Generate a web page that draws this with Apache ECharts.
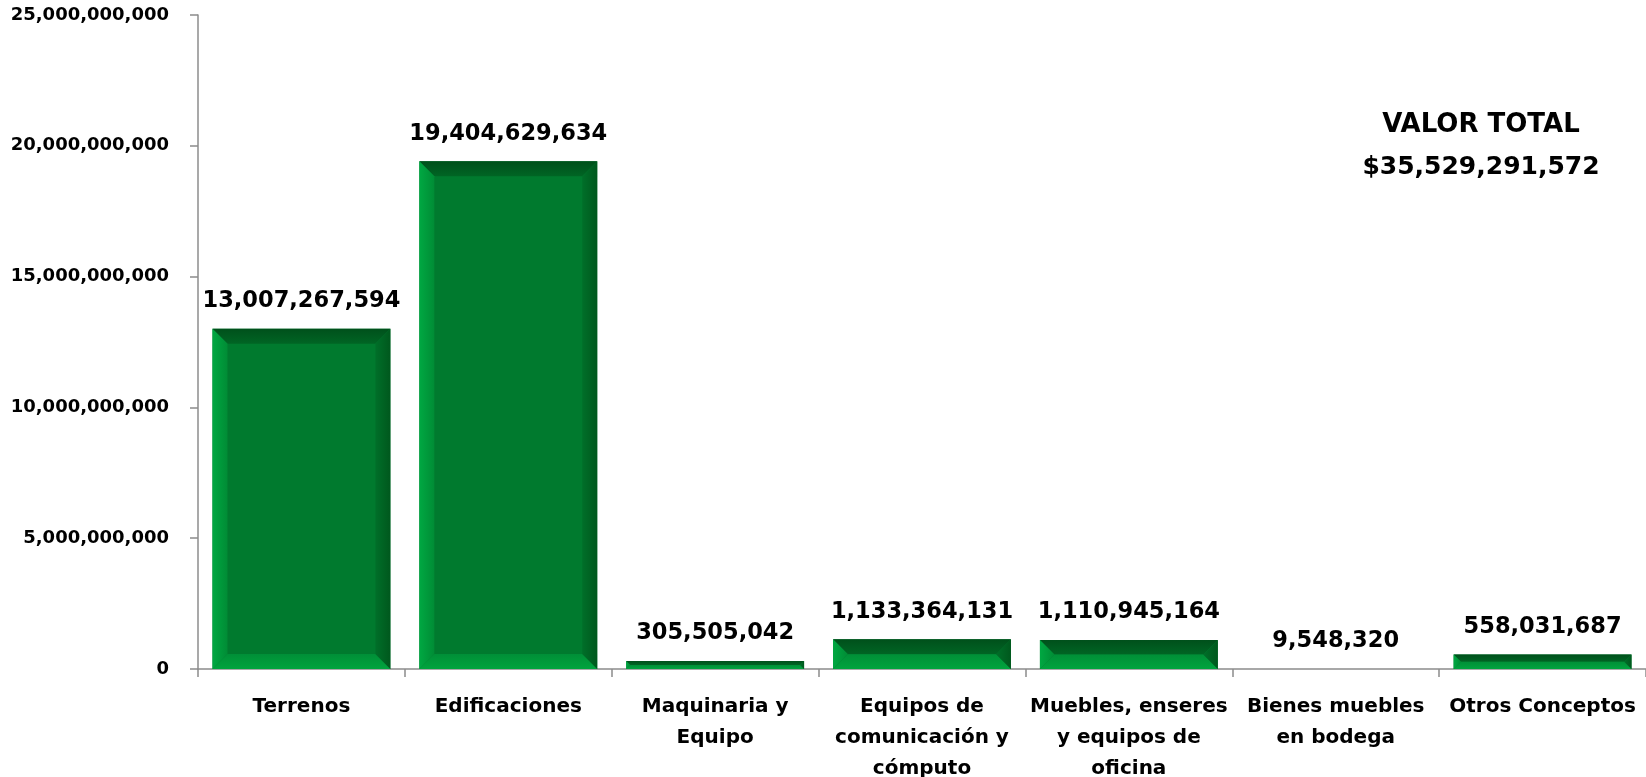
<!DOCTYPE html>
<html>
<head>
<meta charset="utf-8">
<script src="https://cdn.jsdelivr.net/npm/echarts@6/dist/echarts.min.js"></script>
<style>
html,body{margin:0;padding:0;background:#fff;}
#chart{width:1646px;height:777px;}
</style>
</head>
<body>
<div id="chart"></div>
<script>
var categories = [
  'Terrenos',
  'Edificaciones',
  'Maquinaria y\nEquipo',
  'Equipos de\ncomunicación y\ncómputo',
  'Muebles, enseres\ny equipos de\noficina',
  'Bienes muebles\nen bodega',
  'Otros Conceptos'
];
var values = [13007267594, 19404629634, 305505042, 1133364131, 1110945164, 9548320, 558031687];
var yTicks = [0, 5000000000, 10000000000, 15000000000, 20000000000, 25000000000];
var totalTitle = 'VALOR TOTAL';
var totalValue = '$35,529,291,572';

var FONT = 'DejaVu Sans';
function fmt(v){ return Number(v).toLocaleString('en-US'); }

var chart = echarts.init(document.getElementById('chart'), null, {renderer:'canvas'});

var BAR_RATIO = 0.86;
var BEVEL = 15;

function renderBevel(params, api){
  var idx = api.value(0);
  var val = api.value(1);
  var top = api.coord([idx, val]);
  var bot = api.coord([idx, 0]);
  var w = api.size([1, 0])[0] * BAR_RATIO;
  var x0 = top[0] - w/2, x1 = top[0] + w/2;
  var y0 = top[1], y1 = bot[1];
  var h = y1 - y0;
  if (h <= 0.5) return null;
  var b = Math.min(BEVEL, h/2, w/2);
  var ix0 = x0 + b, ix1 = x1 - b, iy0 = y0 + b, iy1 = y1 - b;
  var children = [
    {type:'rect', shape:{x:x0, y:y0, width:w, height:h}, style:{fill:'#007A2E'}},
    {type:'polygon', shape:{points:[[x0,y0],[x1,y0],[ix1,iy0],[ix0,iy0]]},
      style:{fill:new echarts.graphic.LinearGradient(0,0,0,1,[{offset:0,color:'#00501B'},{offset:1,color:'#006524'}])}},
    {type:'polygon', shape:{points:[[x0,y0],[ix0,iy0],[ix0,iy1],[x0,y1]]},
      style:{fill:new echarts.graphic.LinearGradient(0,0,1,0,[{offset:0,color:'#00A842'},{offset:1,color:'#008C35'}])}},
    {type:'polygon', shape:{points:[[x0,y1],[ix0,iy1],[ix1,iy1],[x1,y1]]},
      style:{fill:new echarts.graphic.LinearGradient(0,0,0,1,[{offset:0,color:'#008F37'},{offset:1,color:'#00A43E'}])}},
    {type:'polygon', shape:{points:[[x1,y0],[ix1,iy0],[ix1,iy1],[x1,y1]]},
      style:{fill:new echarts.graphic.LinearGradient(0,0,1,0,[{offset:0,color:'#006F29'},{offset:1,color:'#00581D'}])}}
  ];
  return {type:'group', children:children};
}

var option = {
  backgroundColor:'#ffffff',
  animation:false,
  grid:{left:198, right:0, top:15, bottom:108, containLabel:false, outerBoundsMode:'none'},
  xAxis:{
    type:'category',
    data:categories,
    axisLine:{show:true, lineStyle:{color:'#8C8C8C', width:1.5}},
    axisTick:{show:true, alignWithLabel:false, length:8, lineStyle:{color:'#8C8C8C', width:1.5}},
    axisLabel:{
      interval:0, color:'#000', fontFamily:FONT, fontWeight:'bold', fontSize:20,
      lineHeight:31, margin:22
    }
  },
  yAxis:{
    type:'value',
    min:yTicks[0], max:yTicks[yTicks.length-1], interval:yTicks[1]-yTicks[0],
    axisLine:{show:true, lineStyle:{color:'#8C8C8C', width:1.5}},
    axisTick:{show:true, length:8, lineStyle:{color:'#8C8C8C', width:1.5}},
    splitLine:{show:false},
    axisLabel:{
      color:'#000', fontFamily:FONT, fontWeight:'bold', fontSize:18, margin:29,
      formatter:function(v){ return fmt(v); }
    }
  },
  series:[
    {
      type:'bar',
      data:values,
      barWidth:(BAR_RATIO*100)+'%',
      itemStyle:{color:'rgba(0,0,0,0)'},
      z:5,
      label:{
        show:true, position:'top', distance:16,
        color:'#000', fontFamily:FONT, fontWeight:'bold', fontSize:22.5,
        formatter:function(p){ return fmt(p.value); }
      }
    },
    {
      type:'custom',
      data:values.map(function(v,i){ return [i, v]; }),
      renderItem:renderBevel,
      z:3
    }
  ],
  graphic:[
    {type:'text', x:1481, y:125, z:10, style:{text:totalTitle, align:'center', verticalAlign:'middle', fill:'#000', font:'bold 26px "DejaVu Sans"'}},
    {type:'text', x:1481, y:167, z:10, style:{text:totalValue, align:'center', verticalAlign:'middle', fill:'#000', font:'bold 25px "DejaVu Sans"'}}
  ]
};
chart.setOption(option);
</script>
</body>
</html>
